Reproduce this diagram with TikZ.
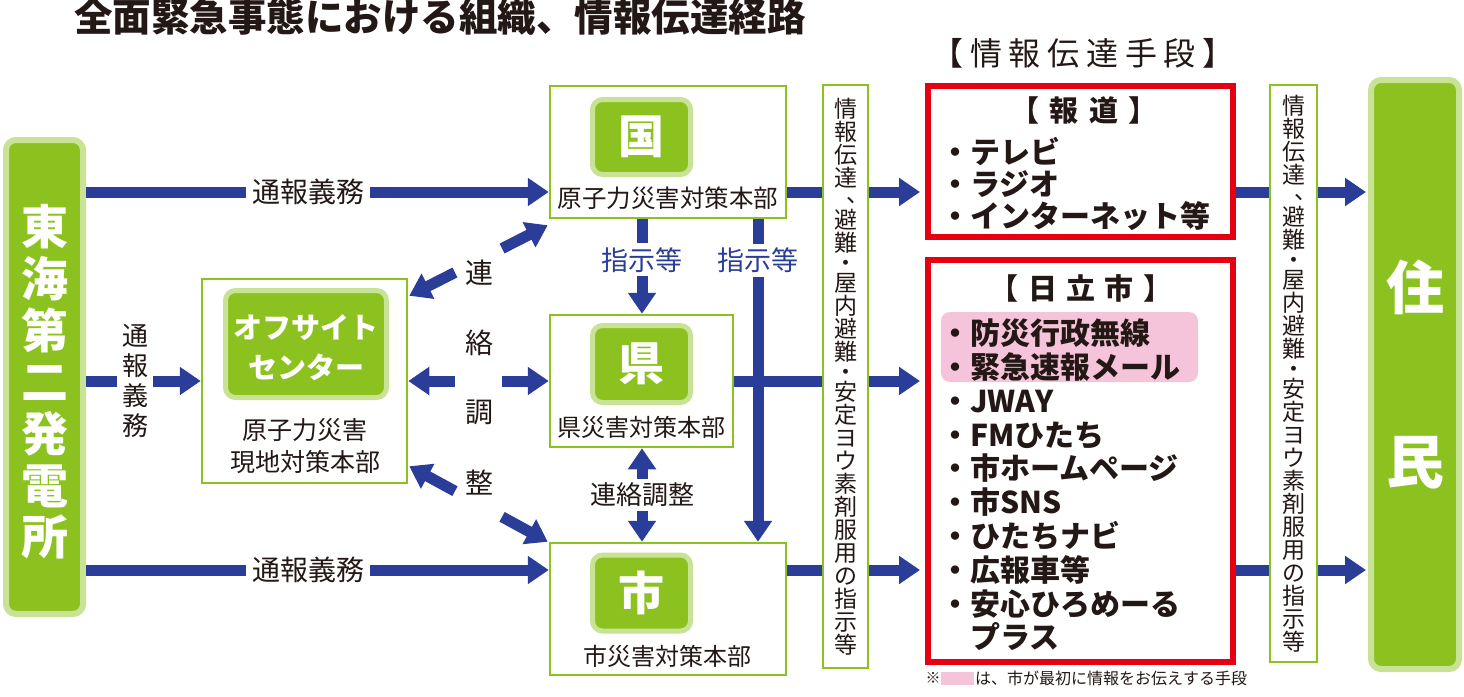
\documentclass[tikz,border=0pt]{standalone}
\usepackage{fontspec}
\setmainfont{Noto Sans CJK JP}
\usetikzlibrary{arrows.meta,calc}
\definecolor{grn}{HTML}{8CC21F}
\definecolor{lgrn}{HTML}{C8E296}
\definecolor{blu}{HTML}{2A3D98}
\definecolor{rd}{HTML}{E50012}
\definecolor{pnk}{HTML}{F5C4DA}
\definecolor{ink}{HTML}{231815}
\newcommand\fz[2]{\fontsize{#1pt}{#2pt}\selectfont}
\makeatletter
\def\vt@comma{、}
\def\vt@dot{・}
\newcommand\vtxt[3]{\vbox{\fontsize{#1}{#2}\selectfont\baselineskip=#2\relax
  \lineskiplimit=-\maxdimen\lineskip=0pt
  \@tfor\vt@c:=#3\do{\vt@cell}}}
\def\vt@cell{%
  \ifx\vt@c\vt@comma
    \kern-2pt\hbox to 1em{\kern0.55em\raisebox{0.2em}{、}\hss}\kern-2pt
  \else\ifx\vt@c\vt@dot
    \kern-3pt\hbox to 1em{\hss・\hss}\kern-3pt
  \else
    \hbox to 1em{\hss\vt@c\hss}%
  \fi\fi}
\makeatother
\tikzset{
  frame/.style={draw=grn, line width=2.5pt, fill=white, inner sep=0pt},
  gbox/.style={draw=lgrn, line width=5pt, fill=grn, rounded corners=10pt, inner sep=0pt},
  wtxt/.style={text=white, font=\bfseries, inner sep=0pt},
  redbox/.style={draw=rd, line width=6pt, inner sep=0pt},
  flow/.style={draw=blu, line width=11pt, ->},
  lbl/.style={text=ink, inner sep=0pt},
  onln/.style={lbl, fill=white, inner xsep=6pt, inner ysep=4pt},
}
\begin{document}
\begin{tikzpicture}[x=1pt,y=-1pt,>={Triangle[width=27pt,length=21pt]}]
\useasboundingbox (0,0) rectangle (1464,696);

% title
\node[lbl,font=\bfseries\fz{38.5}{42}] (title) at (440,17) {全面緊急事態における組織、情報伝達経路};

% power plant
\node[gbox, line width=6pt, minimum width=77, minimum height=474] (plant) at (44.5,377) {};
\node[wtxt] (plantTxt) at (44.5,382) {\vtxt{47pt}{51.7pt}{東海第二発電所}};

% offsite centre
\node[frame, minimum width=205, minimum height=204] (offsite) at (304.5,381) {};
\node[gbox, minimum width=161, minimum height=107] (offsq) at (306,344) {};
\node[wtxt, font=\bfseries\fz{29}{40}, align=center] (offTxt) at (306,348) {オフサイト\\センター};
\node[lbl, font=\fz{25}{32}, align=center] (offName) at (305,446) {原子力災害\\現地対策本部};

% kuni
\node[frame, minimum width=236, minimum height=132] (kuni) at (668,152) {};
\node[gbox, minimum width=98, minimum height=75] (kunisq) at (641.5,137) {};
\node[wtxt, font=\bfseries\fz{46}{46}] (kuniChar) at (kunisq) {国};
\node[lbl, font=\fz{24.5}{28}] (kuniName) at (668,198) {原子力災害対策本部};

% ken
\node[frame, minimum width=183, minimum height=132] (ken) at (641.5,381) {};
\node[gbox, minimum width=98, minimum height=77] (kensq) at (641.5,364) {};
\node[wtxt, font=\bfseries\fz{46}{46}] (kenChar) at (kensq) {県};
\node[lbl, font=\fz{24}{28}] (kenName) at (641,427) {県災害対策本部};

% shi
\node[frame, minimum width=236, minimum height=132] (shi) at (668,609) {};
\node[gbox, minimum width=98, minimum height=76] (shisq) at (641.5,593) {};
\node[wtxt, font=\bfseries\fz{46}{46}] (shiChar) at (shisq) {市};
\node[lbl, font=\fz{24}{28}] (shiName) at (667,656) {市災害対策本部};

% information means
\node[lbl, font=\fz{32}{34}\addfontfeatures{LetterSpace=21}] (infoHead) at (1083,53) {【情報伝達手段】};

\node[redbox, minimum width=305, minimum height=151] (hodo) at (1080.5,161.5) {};
\node[lbl, font=\bfseries\fz{29}{32}\addfontfeatures{LetterSpace=36}] (hodoHead) at (1084,110) {【報道】};
\node[lbl, anchor=west, align=left, font=\bfseries\fz{30}{32}] (hodoList) at (940,184) {・テレビ\\・ラジオ\\・インターネット等};

\node[redbox, minimum width=305, minimum height=402] (hitachi) at (1080.5,461) {};
\node[fill=pnk, rounded corners=9pt, minimum width=257, minimum height=70, inner sep=0pt] (pinkbg) at (1069.5,347) {};
\node[lbl, font=\bfseries\fz{29}{32}\addfontfeatures{LetterSpace=32}] (hitHead) at (1081,288) {【日立市】};
\node[lbl, anchor=west, align=left, font=\bfseries\fz{30}{33.8}] (hitList) at (940,485)
  {・防災行政無線\\・緊急速報メール\\・JWAY\\・FMひたち\\・市ホームページ\\・市SNS\\・ひたちナビ\\・広報車等\\・安心ひろめーる\\\hspace*{1em}プラス};

% footnote
\node[lbl, font=\fz{15}{16}] (fnMark) at (933,678) {※};
\node[fill=pnk, minimum width=33, minimum height=13, inner sep=0pt] (fnPink) at (957.5,678) {};
\node[lbl, anchor=west, font=\fz{16}{17}] (fnText) at (975,678) {は、市が最初に情報をお伝えする手段};

% residents
\node[gbox, line width=6pt, minimum width=88, minimum height=589] (jumin) at (1415,374.5) {};
\node[wtxt, font=\bfseries\fz{58}{58}] (ju) at (1415,287) {住};
\node[wtxt, font=\bfseries\fz{58}{58}] (mn) at (1415,463) {民};

% helper coordinates
\coordinate (yA) at (0,192);
\coordinate (yB) at (0,381);
\coordinate (yC) at (0,570);
\coordinate (xL1) at (642,0);
\coordinate (xL2) at (758,0);

% reporting duty arrows
\draw[flow] (plant.east |- yA) -- node[onln, pos=0.48, font=\fz{28}{30}] (lblA) {通報義務} (kuni.west |- yA);
\draw[flow] (plant.east |- yB) -- node[onln, pos=0.43, inner xsep=5pt, inner ysep=2pt] (lblB) {\vtxt{26pt}{30pt}{通報義務}} (offsite.west);
\draw[flow] (plant.east |- yC) -- node[onln, pos=0.48, font=\fz{28}{30}] (lblC) {通報義務} (shi.west |- yC);

% liaison arrows around offsite centre
\coordinate (hA) at ($(offsite.east)!0.33!(ken.west)$);
\coordinate (hB) at ($(offsite.east)!0.67!(ken.west)$);
\draw[flow] (hA) -- (offsite.east);
\draw[flow] (hB) -- (ken.west);

\coordinate (dUa) at ([shift={(1,18)}]offsite.north east);
\coordinate (dUb) at ([shift={(-1,6)}]kuni.south west);
\coordinate (dU1) at ($(dUa)!0.33!(dUb)$);
\coordinate (dU2) at ($(dUa)!0.67!(dUb)$);
\draw[flow] (dU1) -- (dUa);
\draw[flow] (dU2) -- (dUb);

\coordinate (dLa) at ([shift={(1,-18)}]offsite.south east);
\coordinate (dLb) at ([shift={(-1,0)}]shi.north west);
\coordinate (dL1) at ($(dLa)!0.33!(dLb)$);
\coordinate (dL2) at ($(dLa)!0.67!(dLb)$);
\draw[flow] (dL1) -- (dLa);
\draw[flow] (dL2) -- (dLb);

\node[lbl, font=\fz{28}{30}] (c1) at (479,273) {連};
\node[lbl, font=\fz{28}{30}] (c2) at (479,343) {絡};
\node[lbl, font=\fz{28}{30}] (c3) at (479,412) {調};
\node[lbl, font=\fz{28}{30}] (c4) at (479,483) {整};

% instructions
\draw[flow] (kuni.south -| xL1) -- node[onln, pos=0.43, text=blu, font=\fz{27}{30}] (lblS1) {指示等} (ken.north -| xL1);
\draw[flow] (kuni.south -| xL2) -- node[onln, pos=0.127, text=blu, font=\fz{27}{30}] (lblS2) {指示等} (shi.north -| xL2);
\draw[flow, <->] (ken.south -| xL1) -- node[onln, font=\fz{26}{30}] (lblKS) {連絡調整} (shi.north -| xL1);

% to information means and residents
\draw[flow] (kuni.east |- yA) -- ($(hodo.west |- yA)+(-5,0)$);
\draw[flow] (ken.east |- yB) -- ($(hitachi.west |- yB)+(-5,0)$);
\draw[flow] (shi.east |- yC) -- ($(hitachi.west |- yC)+(-5,0)$);
\draw[flow] (hodo.east |- yA) -- ($(jumin.west |- yA)+(-2,0)$);
\draw[flow] (hitachi.east |- yC) -- ($(jumin.west |- yC)+(-2,0)$);

% vertical message boxes
\node[frame, text=ink, minimum width=45, minimum height=583] (vb1) at (845.5,376.5)
  {\vtxt{23pt}{23pt}{情報伝達、避難・屋内避難・安定ヨウ素剤服用の指示等}};
\node[frame, text=ink, minimum width=47, minimum height=577] (vb2) at (1293.5,373.5)
  {\vtxt{23pt}{23pt}{情報伝達、避難・屋内避難・安定ヨウ素剤服用の指示等}};
\end{tikzpicture}
\end{document}
